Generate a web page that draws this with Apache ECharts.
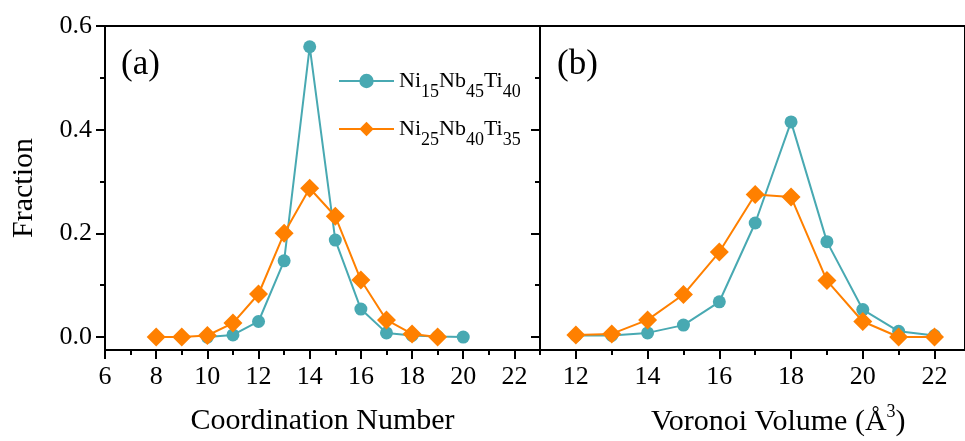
<!DOCTYPE html>
<html>
<head>
<meta charset="utf-8">
<script src="https://cdn.jsdelivr.net/npm/echarts@6/dist/echarts.min.js"></script>
<style>html,body{margin:0;padding:0;background:#fff}#c{width:965px;height:441px}</style>
</head>
<body>
<div id="c"></div>
<script>
// ---- data ----
const cnX = [8, 9, 10, 11, 12, 13, 14, 15, 16, 17, 18, 19, 20];
const cnA = [null, null, 0.0, 0.004, 0.03, 0.147, 0.56, 0.187, 0.054, 0.008, 0.003, 0.001, 0.0];
const cnB = [0.0, 0.0, 0.003, 0.027, 0.083, 0.2, 0.287, 0.233, 0.11, 0.033, 0.006, 0.0, null];
const vvX = [12, 13, 14, 15, 16, 17, 18, 19, 20, 21, 22];
const vvA = [0.003, 0.003, 0.008, 0.023, 0.068, 0.22, 0.415, 0.184, 0.053, 0.011, 0.003];
const vvB = [0.004, 0.006, 0.033, 0.082, 0.164, 0.275, 0.27, 0.109, 0.03, 0.0, 0.0];
const cnMajorTicks = [6, 8, 10, 12, 14, 16, 18, 20, 22];
const cnMinorTicks = [7, 9, 11, 13, 15, 17, 19, 21];
const vvMajorTicks = [12, 14, 16, 18, 20, 22];
const vvMinorTicks = [11, 13, 15, 17, 19, 21];
const yMajorTicks = [0, 0.2, 0.4, 0.6];
const yMinorTicks = [0.1, 0.3, 0.5];
const nameA = 'Ni15Nb45Ti40';
const nameB = 'Ni25Nb40Ti35';

const teal = '#48a9b2';
const orange = '#ff8000';
const FF = 'Liberation Serif';

function pairs(xs, ys) { return xs.map((x, i) => [x, ys[i]]).filter(p => p[1] !== null); }

function xAxes(grid, min, max, major, minor, name) {
  return [
    { gridIndex: grid, type: 'value', min: min, max: max, position: 'bottom',
      axisLine: { show: true, onZero: false, lineStyle: { color: '#000', width: 2 } },
      axisTick: { show: true, customValues: minor, length: 5, lineStyle: { color: '#000', width: 2 } },
      axisLabel: { show: false }, splitLine: { show: false } },
    { gridIndex: grid, type: 'value', min: min, max: max, position: 'bottom',
      axisLine: { show: false, onZero: false },
      axisTick: { show: true, customValues: major, length: 9, lineStyle: { color: '#000', width: 2 } },
      axisLabel: { show: true, customValues: major, margin: 14, fontSize: 26, fontFamily: FF, color: '#000' },
      splitLine: { show: false },
      name: name, nameLocation: 'middle', nameGap: 56,
      nameTextStyle: { fontSize: 30, fontFamily: FF, color: '#000' } }
  ];
}
function yAxes(grid, showLabels, name) {
  return [
    { gridIndex: grid, type: 'value', min: -0.025, max: 0.6, position: 'left',
      axisLine: { show: true, onZero: false, lineStyle: { color: '#000', width: 2 } },
      axisTick: { show: true, customValues: yMinorTicks, length: 5, lineStyle: { color: '#000', width: 2 } },
      axisLabel: { show: false }, splitLine: { show: false } },
    { gridIndex: grid, type: 'value', min: -0.025, max: 0.6, position: 'left',
      axisLine: { show: false, onZero: false },
      axisTick: { show: true, customValues: yMajorTicks, length: 9, lineStyle: { color: '#000', width: 2 } },
      axisLabel: { show: showLabels, customValues: yMajorTicks, margin: 13, fontSize: 26, fontFamily: FF, color: '#000',
        formatter: v => Number(v).toFixed(1) },
      splitLine: { show: false },
      name: name, nameLocation: 'middle', nameGap: 66,
      nameTextStyle: { fontSize: 30, fontFamily: FF, color: '#000' } }
  ];
}

const rich = {
  n: { fontSize: 22, fontFamily: FF, color: '#000', lineHeight: 40, verticalAlign: 'middle' },
  s: { fontSize: 18, fontFamily: FF, color: '#000', lineHeight: 22, verticalAlign: 'bottom' }
};
function legendFmt(name) {
  const m = name.match(/^(Ni)(\d+)(Nb)(\d+)(Ti)(\d+)$/);
  return '{n|' + m[1] + '}{s|' + m[2] + '}{n|' + m[3] + '}{s|' + m[4] + '}{n|' + m[5] + '}{s|' + m[6] + '}';
}

function mkSeries(name, data, xi, yi, color, symbol, size) {
  return { name: name, type: 'line', xAxisIndex: xi, yAxisIndex: yi, data: data,
    symbol: symbol, symbolSize: size, showSymbol: true,
    lineStyle: { color: color, width: 2 }, itemStyle: { color: color }, emphasis: { disabled: true } };
}

const chart = echarts.init(document.getElementById('c'), null, { renderer: 'canvas' });
chart.setOption({
  animation: false,
  backgroundColor: '#fff',
  grid: [
    { left: 105, top: 26, width: 435, height: 324, show: true, borderColor: '#000', borderWidth: 2, backgroundColor: 'transparent' },
    { left: 540, top: 26, width: 428, height: 324, show: true, borderColor: '#000', borderWidth: 2, backgroundColor: 'transparent' }
  ],
  xAxis: [].concat(
    xAxes(0, 6, 23, cnMajorTicks, cnMinorTicks, 'Coordination Number'),
    xAxes(1, 11, 22.85, vvMajorTicks, vvMinorTicks, '')
  ),
  yAxis: [].concat(yAxes(0, true, 'Fraction'), yAxes(1, false, '')),
  legend: {
    data: [nameA, nameB], orient: 'vertical', left: 333, top: 65,
    itemWidth: 55, itemHeight: 18, itemGap: 17,
    formatter: legendFmt, textStyle: { rich: rich, fontFamily: FF }
  },
  graphic: [
    { type: 'text', left: 121, top: 47, style: { text: '(a)', font: '35px "Liberation Serif"', fill: '#000' } },
    { type: 'text', left: 557, top: 47, style: { text: '(b)', font: '35px "Liberation Serif"', fill: '#000' } },
    { type: 'text', left: 651, top: 403, style: {
        text: '{t|Voronoi Volume (Å}{p|3}{t|)}',
        rich: { t: { fontSize: 30, fontFamily: FF, fill: '#000', verticalAlign: 'bottom', lineHeight: 34 },
                p: { fontSize: 18, fontFamily: FF, fill: '#000', verticalAlign: 'top', lineHeight: 18 } } } }
  ],
  series: [
    mkSeries(nameA, pairs(cnX, cnA), 0, 0, teal, 'circle', 13),
    mkSeries(nameB, pairs(cnX, cnB), 0, 0, orange, 'diamond', 19),
    mkSeries(nameA, pairs(vvX, vvA), 2, 2, teal, 'circle', 13),
    mkSeries(nameB, pairs(vvX, vvB), 2, 2, orange, 'diamond', 19)
  ]
});
</script>
</body>
</html>
